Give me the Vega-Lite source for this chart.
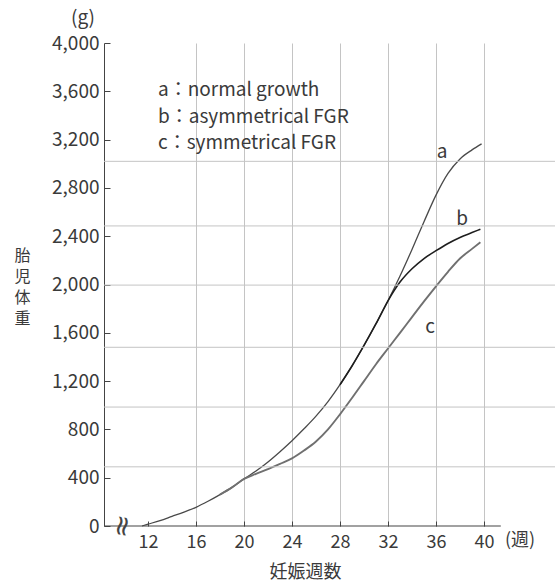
{
  "$schema": "https://vega.github.io/schema/vega-lite/v6.json",
  "width": 451,
  "height": 483,
  "autosize": {"type": "none"},
  "padding": {"left": 104, "top": 43, "right": 0, "bottom": 57},
  "background": "white",
  "config": {
    "view": {"stroke": null},
    "font": "Noto Sans CJK JP",
    "text": {"font": "Noto Sans CJK JP", "color": "#3a3a3a"}
  },
  "datasets": {
    "hgrid": [{"g": 490}, {"g": 985}, {"g": 1480}, {"g": 1995}, {"g": 2485}, {"g": 3020}],
    "xaxis": [{"w1": 8.333, "w2": 41.4, "g": 0}],
    "brk": [{"week": 9.8, "g": 0, "text": "≈"}],
    "curves": [
      {"series": "a", "week": 11.5, "g": 0}, {"series": "a", "week": 12, "g": 15}, {"series": "a", "week": 13, "g": 45}, {"series": "a", "week": 14, "g": 80}, {"series": "a", "week": 15, "g": 115}, {"series": "a", "week": 16, "g": 155}, {"series": "a", "week": 17, "g": 205}, {"series": "a", "week": 18, "g": 260}, {"series": "a", "week": 19, "g": 320}, {"series": "a", "week": 20, "g": 390}, {"series": "a", "week": 21, "g": 455}, {"series": "a", "week": 22, "g": 530}, {"series": "a", "week": 23, "g": 615}, {"series": "a", "week": 24, "g": 706}, {"series": "a", "week": 25, "g": 805}, {"series": "a", "week": 26, "g": 910}, {"series": "a", "week": 27, "g": 1030}, {"series": "a", "week": 28, "g": 1170}, {"series": "a", "week": 29, "g": 1325}, {"series": "a", "week": 30, "g": 1495}, {"series": "a", "week": 31, "g": 1675}, {"series": "a", "week": 32, "g": 1865}, {"series": "a", "week": 33, "g": 2070}, {"series": "a", "week": 34, "g": 2290}, {"series": "a", "week": 35, "g": 2520}, {"series": "a", "week": 36, "g": 2740}, {"series": "a", "week": 37, "g": 2920}, {"series": "a", "week": 38, "g": 3040}, {"series": "a", "week": 39, "g": 3115}, {"series": "a", "week": 39.8, "g": 3165},
      {"series": "b", "week": 28, "g": 1170}, {"series": "b", "week": 29, "g": 1325}, {"series": "b", "week": 30, "g": 1495}, {"series": "b", "week": 31, "g": 1675}, {"series": "b", "week": 32, "g": 1865}, {"series": "b", "week": 33, "g": 2020}, {"series": "b", "week": 34, "g": 2130}, {"series": "b", "week": 35, "g": 2215}, {"series": "b", "week": 36, "g": 2280}, {"series": "b", "week": 37, "g": 2340}, {"series": "b", "week": 38, "g": 2390}, {"series": "b", "week": 39, "g": 2430}, {"series": "b", "week": 39.7, "g": 2458},
      {"series": "c", "week": 18, "g": 260}, {"series": "c", "week": 19, "g": 320}, {"series": "c", "week": 20, "g": 390}, {"series": "c", "week": 21, "g": 432}, {"series": "c", "week": 22, "g": 472}, {"series": "c", "week": 23, "g": 515}, {"series": "c", "week": 24, "g": 560}, {"series": "c", "week": 25, "g": 625}, {"series": "c", "week": 26, "g": 700}, {"series": "c", "week": 27, "g": 800}, {"series": "c", "week": 28, "g": 925}, {"series": "c", "week": 29, "g": 1060}, {"series": "c", "week": 30, "g": 1200}, {"series": "c", "week": 31, "g": 1340}, {"series": "c", "week": 32, "g": 1470}, {"series": "c", "week": 33, "g": 1600}, {"series": "c", "week": 34, "g": 1730}, {"series": "c", "week": 35, "g": 1860}, {"series": "c", "week": 36, "g": 1985}, {"series": "c", "week": 37, "g": 2105}, {"series": "c", "week": 38, "g": 2215}, {"series": "c", "week": 39, "g": 2295}, {"series": "c", "week": 39.7, "g": 2350}
    ],
    "legend": [
      {"week": 12.83, "g": 3610, "text": "a：normal growth"},
      {"week": 12.83, "g": 3385, "text": "b：asymmetrical FGR"},
      {"week": 12.83, "g": 3170, "text": "c：symmetrical FGR"}
    ],
    "tags": [
      {"week": 36.5, "g": 3097, "text": "a"},
      {"week": 38.17, "g": 2542, "text": "b"},
      {"week": 35.5, "g": 1648, "text": "c"},
      {"week": 6.58, "g": 4206, "text": "(g)"}
    ],
    "unit": [{"week": 43.0, "g": -50, "text": "(週)"}]
  },
  "layer": [
    {
      "data": {"name": "curves"},
      "mark": {"type": "line", "interpolate": "monotone"},
      "encoding": {
        "x": {
          "field": "week", "type": "quantitative",
          "scale": {"domain": [8.333, 45.917], "nice": false, "zero": false},
          "axis": {
            "values": [12, 16, 20, 24, 28, 32, 36, 40],
            "domain": false,
            "grid": true,
            "gridColor": {"condition": {"test": "datum.value == 12", "value": "transparent"}, "value": "#c4c4c4"},
            "tickSize": -5,
            "tickColor": "#444",
            "labelPadding": 12,
            "labelFontSize": 18,
            "labelColor": "#3a3a3a",
            "labelFont": "Noto Sans CJK JP",
            "title": "妊娠週数",
            "titleFont": "Noto Sans CJK JP",
            "titleFontSize": 18,
            "titleFontWeight": "normal",
            "titleColor": "#3a3a3a",
            "titleX": 201,
            "titleY": 46,
            "titleAlign": "center",
            "titleBaseline": "middle"
          }
        },
        "y": {
          "field": "g", "type": "quantitative",
          "scale": {"domain": [0, 4000], "nice": false},
          "axis": {
            "values": [0, 400, 800, 1200, 1600, 2000, 2400, 2800, 3200, 3600, 4000],
            "format": ",d",
            "domain": true,
            "domainColor": "#444",
            "grid": false,
            "tickSize": -6,
            "tickColor": "#444",
            "labelPadding": 11,
            "labelFontSize": 19,
            "labelColor": "#3a3a3a",
            "labelFont": "Noto Sans CJK JP",
            "title": ["胎", "児", "体", "重"],
            "titleAngle": 0,
            "titleFont": "Noto Sans CJK JP",
            "titleFontSize": 16,
            "titleFontWeight": "normal",
            "titleColor": "#3a3a3a",
            "titleLineHeight": 21,
            "titleX": -82,
            "titleY": 212,
            "titleAlign": "center",
            "titleBaseline": "middle"
          }
        },
        "detail": {"field": "series", "type": "nominal"},
        "color": {"field": "series", "type": "nominal", "scale": {"domain": ["a", "b", "c"], "range": ["#4a4a4a", "#1e1e1e", "#707070"]}, "legend": null},
        "strokeWidth": {"field": "series", "type": "nominal", "scale": {"domain": ["a", "b", "c"], "range": [1.3, 1.9, 1.1]}, "legend": null}
      }
    },
    {
      "data": {"name": "hgrid"},
      "mark": {"type": "rule", "color": "#c4c4c4", "strokeWidth": 1},
      "encoding": {
        "y": {"field": "g", "type": "quantitative"}
      }
    },
    {
      "data": {"name": "xaxis"},
      "mark": {"type": "rule", "color": "#444", "strokeWidth": 1.2},
      "encoding": {
        "x": {"field": "w1", "type": "quantitative"},
        "x2": {"field": "w2"},
        "y": {"field": "g", "type": "quantitative"}
      }
    },
    {
      "data": {"name": "brk"},
      "mark": {"type": "text", "font": "DejaVu Sans", "fontSize": 28, "angle": 100, "align": "center", "baseline": "middle", "color": "#444"},
      "encoding": {
        "x": {"field": "week", "type": "quantitative"},
        "y": {"field": "g", "type": "quantitative"},
        "text": {"field": "text"}
      }
    },
    {
      "data": {"name": "legend"},
      "mark": {"type": "text", "fontSize": 19, "align": "left", "baseline": "middle"},
      "encoding": {
        "x": {"field": "week", "type": "quantitative"},
        "y": {"field": "g", "type": "quantitative"},
        "text": {"field": "text"}
      }
    },
    {
      "data": {"name": "tags"},
      "mark": {"type": "text", "fontSize": 19, "align": "center", "baseline": "middle"},
      "encoding": {
        "x": {"field": "week", "type": "quantitative"},
        "y": {"field": "g", "type": "quantitative"},
        "text": {"field": "text"}
      }
    },
    {
      "data": {"name": "unit"},
      "mark": {"type": "text", "fontSize": 18, "align": "center", "baseline": "top"},
      "encoding": {
        "x": {"field": "week", "type": "quantitative"},
        "y": {"field": "g", "type": "quantitative"},
        "text": {"field": "text"}
      }
    }
  ]
}
